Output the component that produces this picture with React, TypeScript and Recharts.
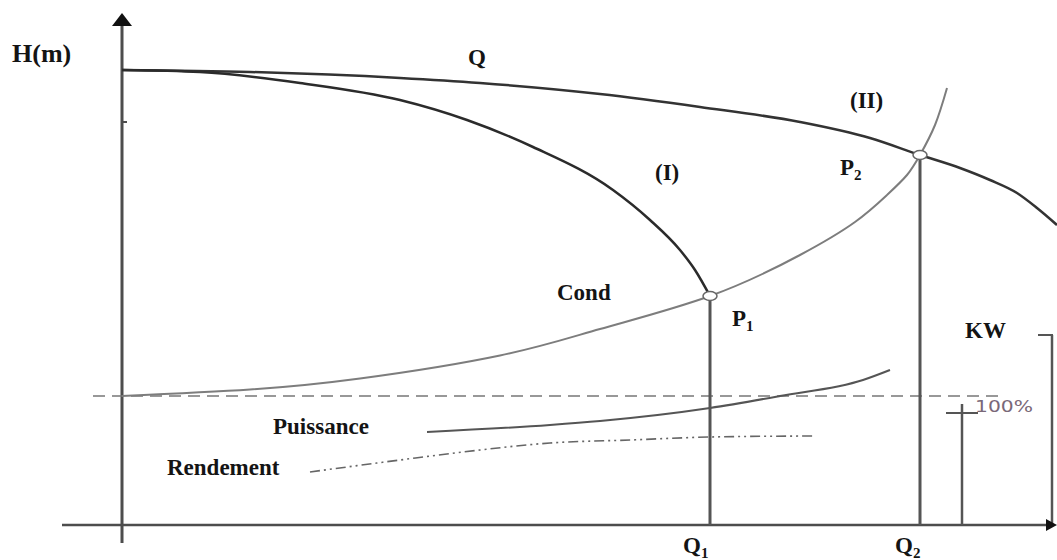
import {
  ComposedChart,
  Line,
  ReferenceDot,
  ReferenceLine,
  XAxis,
  YAxis,
} from "recharts";

// Chart units: q = débit (1 unit = 10px), h = hauteur (1 unit = 10px)

// Courbe de la pompe (II)
const curveII = [
  { q: 0, h: 45.5 },
  { q: 12.8, h: 45.3 },
  { q: 27.8, h: 44.7 },
  { q: 35.8, h: 44.2 },
  { q: 47.8, h: 43.1 },
  { q: 57.8, h: 41.8 },
  { q: 67.8, h: 40.3 },
  { q: 74.8, h: 38.7 },
  { q: 79.8, h: 37.0 },
  { q: 83.8, h: 35.7 },
  { q: 86.8, h: 34.5 },
  { q: 89.5, h: 33.2 },
  { q: 91.5, h: 31.7 },
  { q: 93.5, h: 30.0 },
];

// Courbe de la pompe (I)
const curveI = [
  { q: 0, h: 45.5 },
  { q: 7.8, h: 45.3 },
  { q: 17.8, h: 44.2 },
  { q: 27.8, h: 42.5 },
  { q: 34.5, h: 40.5 },
  { q: 41.1, h: 37.8 },
  { q: 49.1, h: 33.5 },
  { q: 52.8, h: 30.5 },
  { q: 55.8, h: 27.5 },
  { q: 57.3, h: 25.5 },
  { q: 58.8, h: 22.9 },
];

// Courbe de la conduite
const condCurve = [
  { q: 0, h: 12.9 },
  { q: 12.8, h: 13.55 },
  { q: 23.8, h: 14.65 },
  { q: 37.8, h: 16.95 },
  { q: 47.8, h: 19.6 },
  { q: 58.8, h: 22.9 },
  { q: 67.8, h: 27.0 },
  { q: 73.3, h: 30.3 },
  { q: 76.5, h: 33.0 },
  { q: 78.5, h: 35.0 },
  { q: 79.8, h: 37.0 },
  { q: 81.3, h: 40.0 },
  { q: 82.5, h: 43.7 },
];

const puissance = [
  { q: 30.5, h: 9.3 },
  { q: 42.8, h: 10.0 },
  { q: 47.8, h: 10.4 },
  { q: 58.8, h: 11.7 },
  { q: 65.8, h: 12.9 },
  { q: 74.1, h: 14.5 },
  { q: 76.8, h: 15.5 },
];

const rendement = [
  { q: 18.8, h: 5.3 },
  { q: 27.8, h: 6.5 },
  { q: 35.8, h: 7.5 },
  { q: 42.8, h: 8.2 },
  { q: 50.8, h: 8.5 },
  { q: 58.8, h: 8.8 },
  { q: 69.1, h: 8.9 },
];

// Points de fonctionnement
const pointP1 = { q: 58.8, h: 22.9 };
const pointP2 = { q: 79.8, h: 37.0 };

// Niveau 100 % et repères d'échelle
const level100 = 12.9;
const mark100 = { q: 84.0, h: 12.1, tick: 11.2 };
const markKW = { q: 93.0, h: 19.0 };

const Q_MIN = -12.2;
const Q_MAX = 93.5;
const H_MIN = -3.5;
const H_MAX = 52.5;

const AXIS = "#4d4d4d";
const serif = '"Liberation Serif", "Times New Roman", serif';

function note(
  key: string,
  q: number,
  h: number,
  text: string,
  sub?: string,
  size = 23
) {
  return (
    <ReferenceDot
      key={key}
      x={q}
      y={h}
      ifOverflow="visible"
      shape={(p: any) => (
        <text
          x={p.cx}
          y={p.cy}
          fontFamily={serif}
          fontWeight={700}
          fontSize={size}
          fill="#141414"
        >
          {text}
          {sub ? (
            <tspan fontSize={15} dy={5}>
              {sub}
            </tspan>
          ) : null}
        </text>
      )}
    />
  );
}

function opPoint(key: string, q: number, h: number) {
  return (
    <ReferenceDot
      key={key}
      x={q}
      y={h}
      ifOverflow="visible"
      shape={(p: any) => (
        <ellipse
          cx={p.cx}
          cy={p.cy}
          rx={7}
          ry={4.5}
          fill="#fff"
          stroke="#666"
          strokeWidth={1.5}
        />
      )}
    />
  );
}

export default function App() {
  return (
    <div
      style={{
        position: "absolute",
        left: 0,
        top: 0,
        width: 1057,
        height: 560,
        background: "#fff",
      }}
    >
      <ComposedChart
        width={1057}
        height={560}
        margin={{ top: 0, right: 0, bottom: 0, left: 0 }}
      >
        <XAxis
          type="number"
          dataKey="q"
          domain={[Q_MIN, Q_MAX]}
          allowDataOverflow
          hide
        />
        <YAxis
          type="number"
          dataKey="h"
          domain={[H_MIN, H_MAX]}
          allowDataOverflow
          hide
        />

        {/* axes */}
        <ReferenceLine
          segment={[
            { x: 0, y: -1.8 },
            { x: 0, y: 50 },
          ]}
          stroke={AXIS}
          strokeWidth={3}
          ifOverflow="visible"
        />
        <ReferenceLine
          segment={[
            { x: 0, y: 40.3 },
            { x: 0.5, y: 40.3 },
          ]}
          stroke={AXIS}
          strokeWidth={2}
          ifOverflow="visible"
        />
        <ReferenceLine
          segment={[
            { x: -6.0, y: 0 },
            { x: 92.5, y: 0 },
          ]}
          stroke={AXIS}
          strokeWidth={2.5}
          ifOverflow="visible"
        />
        <ReferenceDot
          x={0}
          y={51.2}
          ifOverflow="visible"
          shape={(p: any) => (
            <polygon
              points={`${p.cx},${p.cy} ${p.cx - 10},${p.cy + 13} ${p.cx + 10},${p.cy + 13}`}
              fill="#111"
            />
          )}
        />
        <ReferenceDot
          x={Q_MAX}
          y={0}
          ifOverflow="visible"
          shape={(p: any) => (
            <polygon
              points={`${p.cx},${p.cy} ${p.cx - 11},${p.cy - 6} ${p.cx - 11},${p.cy + 6}`}
              fill="#111"
            />
          )}
        />

        {/* niveau 100 % */}
        <ReferenceLine
          segment={[
            { x: -2.9, y: level100 },
            { x: 88.2, y: level100 },
          ]}
          stroke="#777"
          strokeWidth={1.5}
          strokeDasharray="12 7"
          ifOverflow="visible"
        />

        {/* verticales Q1 / Q2 */}
        <ReferenceLine
          segment={[
            { x: pointP1.q, y: 0 },
            { x: pointP1.q, y: pointP1.h },
          ]}
          stroke="#555"
          strokeWidth={3}
          ifOverflow="visible"
        />
        <ReferenceLine
          segment={[
            { x: pointP2.q, y: 0 },
            { x: pointP2.q, y: pointP2.h },
          ]}
          stroke="#555"
          strokeWidth={3}
          ifOverflow="visible"
        />

        {/* repères 100 % et KW */}
        <ReferenceLine
          segment={[
            { x: mark100.q, y: 0 },
            { x: mark100.q, y: mark100.h },
          ]}
          stroke="#555"
          strokeWidth={2.5}
          ifOverflow="visible"
        />
        <ReferenceLine
          segment={[
            { x: mark100.q - 1.6, y: mark100.tick },
            { x: mark100.q + 1.6, y: mark100.tick },
          ]}
          stroke="#555"
          strokeWidth={2}
          ifOverflow="visible"
        />
        <ReferenceLine
          segment={[
            { x: markKW.q, y: 0 },
            { x: markKW.q, y: markKW.h },
          ]}
          stroke="#555"
          strokeWidth={2.5}
          ifOverflow="visible"
        />
        <ReferenceLine
          segment={[
            { x: markKW.q - 1.4, y: markKW.h },
            { x: markKW.q + 0.1, y: markKW.h },
          ]}
          stroke="#555"
          strokeWidth={2}
          ifOverflow="visible"
        />

        <Line
          data={condCurve}
          dataKey="h"
          type="natural"
          stroke="#7d7d7d"
          strokeWidth={2}
          dot={false}
          activeDot={false}
          isAnimationActive={false}
        />
        <Line
          data={curveII}
          dataKey="h"
          type="monotone"
          stroke="#333"
          strokeWidth={2.5}
          dot={false}
          activeDot={false}
          isAnimationActive={false}
        />
        <Line
          data={curveI}
          dataKey="h"
          type="monotone"
          stroke="#2b2b2b"
          strokeWidth={2.5}
          dot={false}
          activeDot={false}
          isAnimationActive={false}
        />
        <Line
          data={puissance}
          dataKey="h"
          type="monotone"
          stroke="#555"
          strokeWidth={2}
          dot={false}
          activeDot={false}
          isAnimationActive={false}
        />
        <Line
          data={rendement}
          dataKey="h"
          type="monotone"
          stroke="#666"
          strokeWidth={1.6}
          strokeDasharray="10 4 2 4 2 4"
          dot={false}
          activeDot={false}
          isAnimationActive={false}
        />

        {opPoint("p1", pointP1.q, pointP1.h)}
        {opPoint("p2", pointP2.q, pointP2.h)}

        {note("hm", -11.0, 46.3, "H(m)", undefined, 26)}
        {note("q", 34.6, 46.0, "Q")}
        {note("ii", 72.8, 41.7, "(II)")}
        {note("i", 53.3, 34.5, "(I)")}
        {note("p2", 71.8, 35.0, "P", "2")}
        {note("cond", 43.5, 22.5, "Cond")}
        {note("p1", 61.0, 19.9, "P", "1")}
        {note("kw", 84.3, 18.7, "KW")}
        {note("puis", 15.1, 9.1, "Puissance")}
        {note("rend", 4.5, 5.0, "Rendement")}
        {note("q1", 56.1, -2.8, "Q", "1")}
        {note("q2", 77.3, -2.8, "Q", "2")}
        <ReferenceDot
          x={85.3}
          y={11.3}
          ifOverflow="visible"
          shape={(p: any) => (
            <text
              x={p.cx}
              y={p.cy}
              fontFamily='"DejaVu Sans", sans-serif'
              fontSize={15}
              fill="#7a6878"
              textLength={58}
              lengthAdjust="spacingAndGlyphs"
            >
              100%
            </text>
          )}
        />
      </ComposedChart>
    </div>
  );
}
